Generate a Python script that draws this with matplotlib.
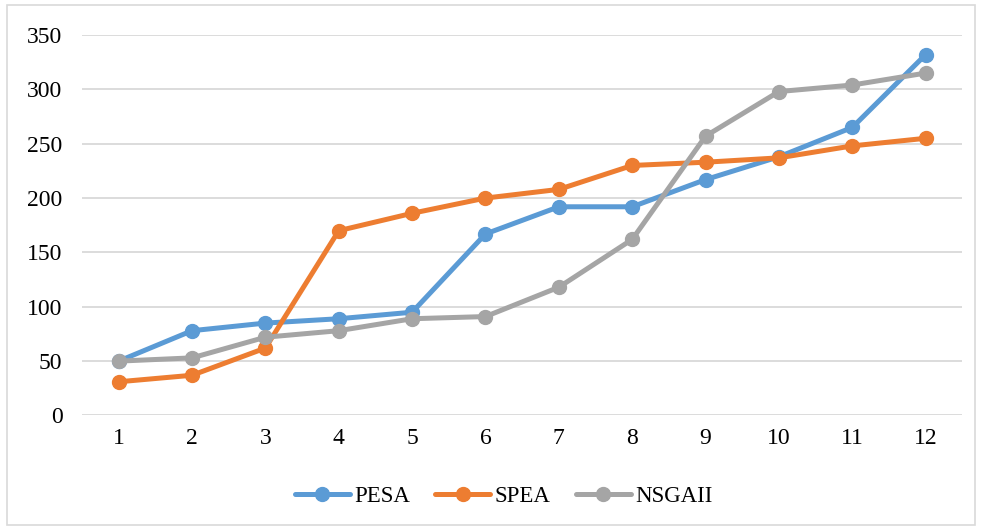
import matplotlib
matplotlib.use("Agg")
import matplotlib.pyplot as plt

categories = [str(i) for i in range(1, 13)]
pesa = [50, 78, 85, 89, 95, 167, 192, 192, 217, 238, 265, 332]
spea = [31, 37, 62, 170, 186, 200, 208, 230, 233, 237, 248, 255]
nsgaii = [50, 53, 72, 78, 89, 91, 118, 162, 257, 298, 304, 315]
yticks = [0, 50, 100, 150, 200, 250, 300, 350]

series = [("PESA", pesa, "#5B9BD5"),
          ("SPEA", spea, "#ED7D31"),
          ("NSGAII", nsgaii, "#A5A5A5")]

plt.rcParams["font.family"] = ["Liberation Serif", "DejaVu Serif"]

fig = plt.figure(figsize=(9.82, 5.29), dpi=100)
ax = fig.add_axes([0.0835, 0.2146, 0.8965, 0.7192])

x = list(range(1, len(categories) + 1))
for name, vals, color in series:
    ax.plot(x, vals, color=color, lw=3.6, marker="o", markersize=10,
            solid_capstyle="round", solid_joinstyle="round", label=name, zorder=3)

ax.set_xlim(0.5, len(categories) + 0.5)
ax.set_ylim(0, 350)
ax.set_xticks(x)
ax.set_xticklabels(categories)
ax.set_yticks(yticks)
ax.tick_params(axis="both", length=0, labelsize=17, colors="black")
ax.tick_params(axis="y", pad=14)
ax.tick_params(axis="x", pad=9)
ax.grid(axis="y", color="#D9D9D9", lw=1.3, zorder=0)
for s in ax.spines.values():
    s.set_visible(False)

leg = fig.legend(loc="center", bbox_to_anchor=(0.513, 0.062), ncol=3, frameon=False,
                 fontsize=16.5, handlelength=2.4, columnspacing=1.1, handletextpad=0.2)

# light border around the whole chart area
border = plt.Rectangle((0.007, 0.008), 0.986, 0.982, transform=fig.transFigure,
                       fill=False, edgecolor="#D9D9D9", lw=1.2)
fig.patches.append(border)

fig.savefig("out.png", dpi=100)
